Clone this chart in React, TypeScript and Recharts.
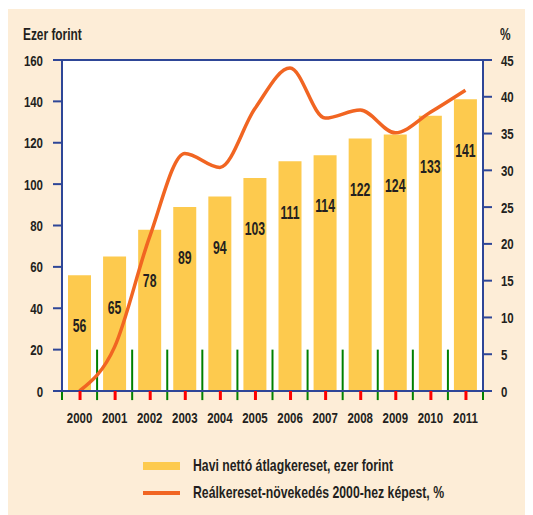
import {
  ComposedChart,
  Bar,
  Line,
  XAxis,
  YAxis,
  ReferenceLine,
  LabelList,
} from 'recharts';

const years = ['2000', '2001', '2002', '2003', '2004', '2005', '2006', '2007', '2008', '2009', '2010', '2011'];
const netWage = [56, 65, 78, 89, 94, 103, 111, 114, 122, 124, 133, 141];
const realGrowth = [0, 6, 21, 32.3, 30.4, 38.4, 43.9, 37.1, 38.2, 35.1, 37.9, 40.9];

const leftTicks = [0, 20, 40, 60, 80, 100, 120, 140, 160];
const rightTicks = [0, 5, 10, 15, 20, 25, 30, 35, 40, 45];
const bandEdges = [0, 1, 2, 3, 4, 5, 6, 7, 8, 9, 10, 11, 12];

const barName = 'Havi nettó átlagkereset, ezer forint';
const lineName = 'Reálkereset-növekedés 2000-hez képest, %';

const data = years.map((y, i) => ({ year: y, wage: netWage[i], growth: realGrowth[i], edge: i + 0.5 }));

const FONT = '"Liberation Sans", Arial, sans-serif';
const BLUE = '#2e4697';
const TEXT = '#231f20';
const BAR = '#fdca4e';
const LINE = '#f16522';
const CREAM = '#fdedd7';
const SQUEEZE = 0.74;

const CHART_W = 526;
const LEFT_W = 55;
const RIGHT_W = 50;
const PLOT_W = CHART_W - LEFT_W - RIGHT_W;

// condensed look: no narrow face is installed, so squeeze the glyphs horizontally
const YTick = (props: any) => {
  const { x, y, payload, textAnchor } = props;
  return (
    <text
      transform={`translate(${x},${y}) scale(${SQUEEZE},1)`}
      textAnchor={textAnchor}
      dy="0.355em"
      fill={TEXT}
      fontSize={15.5}
      fontWeight="bold"
      fontFamily={FONT}
    >
      {payload.value}
    </text>
  );
};

const XTick = (props: any) => {
  const { x, y, payload } = props;
  return (
    <g>
      <rect x={Number(x) - 1} y={Number(y)} width={3} height={9} fill="red" />
      <text
        transform={`translate(${x},${y + 21}) scale(${SQUEEZE},1)`}
        textAnchor="middle"
        dy="0.71em"
        fill={TEXT}
        fontSize={15.5}
        fontWeight="bold"
        fontFamily={FONT}
      >
        {payload.value}
      </text>
    </g>
  );
};

const BarValue = (props: any) => {
  const { x, y, width, value } = props;
  return (
    <text
      transform={`translate(${x + width / 2},${y + 51}) scale(0.7,1)`}
      textAnchor="middle"
      dy="0.355em"
      fill={TEXT}
      fontSize={17.5}
      fontWeight="bold"
      fontFamily={FONT}
    >
      {value}
    </text>
  );
};

const squeezed = (size: number, k: number) => ({
  display: 'inline-block',
  fontSize: size,
  fontWeight: 'bold' as const,
  transform: `scaleX(${k})`,
  transformOrigin: 'left center',
  whiteSpace: 'nowrap' as const,
});

export default function App() {
  return (
    <div
      style={{
        position: 'relative',
        width: CHART_W,
        height: 506,
        marginTop: 1,
        marginLeft: -1,
        background: CREAM,
        fontFamily: FONT,
        color: TEXT,
      }}
    >
      <div style={{ position: 'absolute', left: 16, top: 16 }}>
        <span style={squeezed(16.5, 0.72)}>Ezer forint</span>
      </div>
      <div style={{ position: 'absolute', left: 493, top: 16 }}>
        <span style={squeezed(16.5, 0.72)}>%</span>
      </div>

      <ComposedChart
        width={CHART_W}
        height={506}
        data={data}
        margin={{ top: 51, right: 0, left: 0, bottom: 84 }}
      >
        <rect x={LEFT_W} y={51} width={PLOT_W} height={331} fill="#ffffff" />
        <XAxis
          dataKey="year"
          height={40}
          tickSize={0}
          tickMargin={0}
          axisLine={{ stroke: BLUE, strokeWidth: 2 }}
          tickLine={false}
          tick={<XTick />}
          interval={0}
        />
        <XAxis xAxisId="edge" dataKey="edge" type="number" domain={[0, 12]} allowDataOverflow hide />
        <YAxis
          yAxisId="left"
          width={LEFT_W}
          domain={[0, 160]}
          ticks={leftTicks}
          tickSize={9}
          tickMargin={10}
          tick={<YTick />}
          axisLine={{ stroke: BLUE, strokeWidth: 2 }}
          tickLine={{ stroke: BLUE, strokeWidth: 2 }}
        />
        <YAxis
          yAxisId="right"
          orientation="right"
          width={RIGHT_W}
          domain={[0, 45]}
          ticks={rightTicks}
          tickSize={9}
          tickMargin={9}
          tick={<YTick />}
          axisLine={{ stroke: BLUE, strokeWidth: 2 }}
          tickLine={{ stroke: BLUE, strokeWidth: 2 }}
        />
        <ReferenceLine yAxisId="left" y={160} stroke={BLUE} strokeWidth={2} />
        {bandEdges.map((e) => (
          <ReferenceLine
            key={e}
            xAxisId="edge"
            yAxisId="left"
            segment={[{ x: e, y: 20 }, { x: e, y: -4.4 }]}
            ifOverflow="visible"
            stroke="green"
            strokeWidth={2}
          />
        ))}
        <Bar
          yAxisId="left"
          dataKey="wage"
          name={barName}
          fill={BAR}
          barSize={23}
          isAnimationActive={false}
        >
          <LabelList dataKey="wage" content={<BarValue />} />
        </Bar>
        <Line
          yAxisId="right"
          type="monotone"
          dataKey="growth"
          name={lineName}
          stroke={LINE}
          strokeWidth={3.5}
          dot={false}
          activeDot={false}
          isAnimationActive={false}
        />
      </ComposedChart>

      <div style={{ position: 'absolute', left: 136, top: 443 }}>
        <div style={{ display: 'flex', alignItems: 'center', height: 27 }}>
          <span style={{ display: 'inline-block', width: 37, height: 8, background: BAR, marginRight: 13 }} />
          <span style={squeezed(17, 0.72)}>{barName}</span>
        </div>
        <div style={{ display: 'flex', alignItems: 'center', height: 27 }}>
          <span style={{ display: 'inline-block', width: 37, height: 4, background: LINE, marginRight: 13 }} />
          <span style={squeezed(17, 0.72)}>{lineName}</span>
        </div>
      </div>
    </div>
  );
}
